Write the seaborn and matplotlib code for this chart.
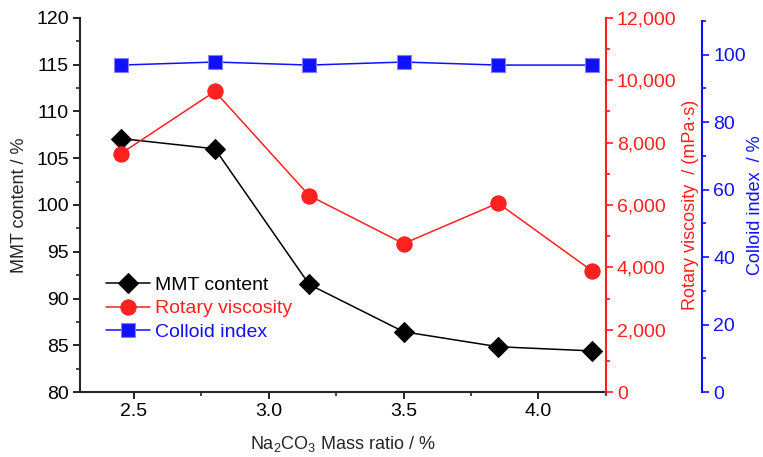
import matplotlib
matplotlib.use("Agg")
import matplotlib.pyplot as plt
from matplotlib.ticker import MultipleLocator, FuncFormatter
import seaborn as sns
import pandas as pd

# Na2CO3 mass ratio (%) and the three measured properties
mass_ratio = [2.45, 2.80, 3.15, 3.50, 3.85, 4.20]
mmt_content = [107.1, 106.0, 91.5, 86.45, 84.85, 84.4]
rotary_viscosity = [7640, 9640, 6300, 4760, 6060, 3880]
colloid_index = [96.9, 97.8, 96.9, 97.8, 96.9, 96.9]

df = pd.DataFrame({
    "ratio": mass_ratio,
    "mmt": mmt_content,
    "visc": rotary_viscosity,
    "colloid": colloid_index,
})

sns.set_style("ticks")
plt.rcParams["font.family"] = ["Liberation Sans", "DejaVu Sans"]
plt.rcParams["mathtext.fontset"] = "custom"
plt.rcParams["mathtext.rm"] = "Liberation Sans"
plt.rcParams["mathtext.it"] = "Liberation Sans"

BLACK, RED, BLUE = "#000000", "#ff2020", "#1010ff"
FS_TICK = 14
FS_LABEL = 13

fig = plt.figure(figsize=(7.63, 4.57), dpi=100)
ax = fig.add_axes([0.105, 0.142, 0.689, 0.819])
ax2 = ax.twinx()
ax3 = ax.twinx()

sns.lineplot(data=df, x="ratio", y="mmt", ax=ax, color=BLACK, marker="D",
             markersize=10, markeredgecolor=BLACK, linewidth=1.1,
             label="MMT content", legend=False, zorder=3)
sns.lineplot(data=df, x="ratio", y="visc", ax=ax2, color=RED, marker="o",
             markersize=11, markeredgecolor=RED, linewidth=1.1,
             label="Rotary viscosity", legend=False, zorder=3)
sns.lineplot(data=df, x="ratio", y="colloid", ax=ax3, color=BLUE, marker="s",
             markersize=9.5, markeredgecolor="#8080ff", markeredgewidth=0.8,
             linewidth=1.1, label="Colloid index", legend=False, zorder=3)

# x axis
ax.set_xlim(2.30, 4.25)
ax.xaxis.set_major_locator(MultipleLocator(0.5))
ax.xaxis.set_minor_locator(MultipleLocator(0.25))
ax.xaxis.set_major_formatter(FuncFormatter(lambda v, p: f"{v:.1f}"))

# left axis
ax.set_ylim(80, 120)
ax.yaxis.set_major_locator(MultipleLocator(5))
ax.yaxis.set_minor_locator(MultipleLocator(2.5))
ax.set_ylabel("MMT content / %", fontsize=FS_LABEL, labelpad=6)

# red axis
ax2.set_ylim(0, 12000)
ax2.yaxis.set_major_locator(MultipleLocator(2000))
ax2.yaxis.set_minor_locator(MultipleLocator(1000))
ax2.yaxis.set_major_formatter(FuncFormatter(lambda v, p: f"{int(v):,}"))
ax2.set_ylabel("Rotary viscosity  / (mPa·s)", fontsize=FS_LABEL, color=RED,
               labelpad=4)

# blue axis
ax3.spines["right"].set_position(("axes", 1.183))
ax3.set_ylim(0, 110.9)
ax3.spines["right"].set_bounds(0, 110)
ax3.yaxis.set_major_locator(MultipleLocator(20))
ax3.yaxis.set_minor_locator(MultipleLocator(10))
ax3.set_ylabel("Colloid index  / %", fontsize=FS_LABEL, color=BLUE, labelpad=1)

for a in (ax, ax2, ax3):
    for s in a.spines.values():
        s.set_visible(False)
    a.tick_params(which="major", length=5, width=1.2, labelsize=FS_TICK,
                  direction="out", pad=3)
    a.tick_params(which="minor", length=3, width=1.2, direction="out")

ax.spines["left"].set_visible(True)
ax.spines["bottom"].set_visible(True)
ax.spines["left"].set_linewidth(1.5)
ax.spines["bottom"].set_linewidth(1.5)
ax.tick_params(axis="both", colors=BLACK)

ax2.spines["right"].set_visible(True)
ax2.spines["right"].set_color(RED)
ax2.spines["right"].set_linewidth(1.5)
ax2.tick_params(axis="y", which="both", colors=RED)

ax3.spines["right"].set_visible(True)
ax3.spines["right"].set_color(BLUE)
ax3.spines["right"].set_linewidth(1.5)
ax3.tick_params(axis="y", which="both", colors=BLUE)

ax2.set_xlabel("")
ax3.set_xlabel("")
ax.set_xlabel("Na$_2$CO$_3$ Mass ratio / %", fontsize=FS_LABEL, labelpad=10)

# legend
handles = ax.get_lines()[:1] + ax2.get_lines()[:1] + ax3.get_lines()[:1]
labels = ["MMT content", "Rotary viscosity", "Colloid index"]
leg = ax3.legend(handles, labels, loc="lower left", bbox_to_anchor=(0.015, 0.09),
                 frameon=False, fontsize=FS_TICK, handlelength=2.3,
                 handletextpad=0.25, labelspacing=0.3)
for txt, c in zip(leg.get_texts(), (BLACK, RED, BLUE)):
    txt.set_color(c)

fig.savefig("out.png", dpi=100)
